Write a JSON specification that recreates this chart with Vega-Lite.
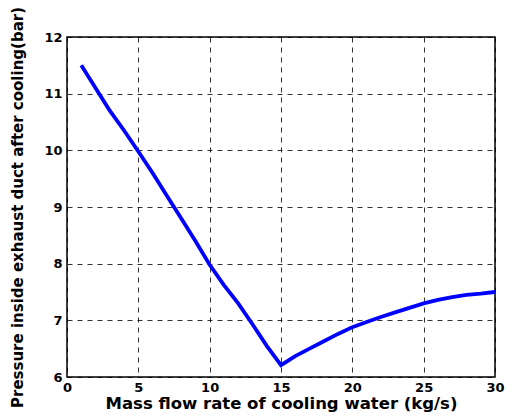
{
  "$schema": "https://vega.github.io/schema/vega-lite/v6.json",
  "width": 428,
  "height": 340,
  "autosize": "none",
  "padding": {"left": 67, "top": 37, "right": 17, "bottom": 42},
  "background": "white",
  "config": {
    "view": {"stroke": "black", "strokeWidth": 1.5},
    "axis": {
      "labelFont": "DejaVu Sans",
      "labelFontWeight": "bold",
      "labelFontSize": 13,
      "labelColor": "black",
      "labelFlush": false,
      "titleFont": "DejaVu Sans",
      "titleFontWeight": "bold",
      "titleColor": "black",
      "grid": true,
      "gridColor": "black",
      "gridDash": [5, 5],
      "gridOpacity": 0.8,
      "gridWidth": 1,
      "domain": false,
      "ticks": false
    }
  },
  "data": {
    "values": [
      {"x": 1, "y": 11.5},
      {"x": 2, "y": 11.1},
      {"x": 3, "y": 10.7},
      {"x": 4, "y": 10.35},
      {"x": 5, "y": 9.98},
      {"x": 6, "y": 9.6},
      {"x": 7, "y": 9.2},
      {"x": 8, "y": 8.8},
      {"x": 9, "y": 8.4},
      {"x": 10, "y": 7.98},
      {"x": 11, "y": 7.62},
      {"x": 12, "y": 7.3},
      {"x": 13, "y": 6.93},
      {"x": 14, "y": 6.55},
      {"x": 15, "y": 6.21},
      {"x": 16, "y": 6.37},
      {"x": 17, "y": 6.5},
      {"x": 18, "y": 6.63},
      {"x": 19, "y": 6.76},
      {"x": 20, "y": 6.88},
      {"x": 21, "y": 6.97},
      {"x": 22, "y": 7.06},
      {"x": 23, "y": 7.14},
      {"x": 24, "y": 7.22},
      {"x": 25, "y": 7.3},
      {"x": 26, "y": 7.36},
      {"x": 27, "y": 7.41},
      {"x": 28, "y": 7.45},
      {"x": 29, "y": 7.47},
      {"x": 30, "y": 7.5}
    ]
  },
  "mark": {"type": "line", "color": "#0000FF", "strokeWidth": 3.8, "clip": true},
  "encoding": {
    "x": {
      "field": "x",
      "type": "quantitative",
      "scale": {"domain": [0, 30], "nice": false},
      "axis": {
        "values": [0, 5, 10, 15, 20, 25, 30],
        "title": "Mass flow rate of cooling water (kg/s)",
        "titleFontSize": 16.5,
        "labelPadding": 4,
        "titlePadding": 1
      }
    },
    "y": {
      "field": "y",
      "type": "quantitative",
      "scale": {"domain": [6, 12], "nice": false, "zero": false},
      "axis": {
        "values": [6, 7, 8, 9, 10, 11, 12],
        "title": "Pressure inside exhaust duct after cooling(bar)",
        "titleFontSize": 15,
        "labelPadding": 5,
        "titlePadding": 18
      }
    }
  }
}
